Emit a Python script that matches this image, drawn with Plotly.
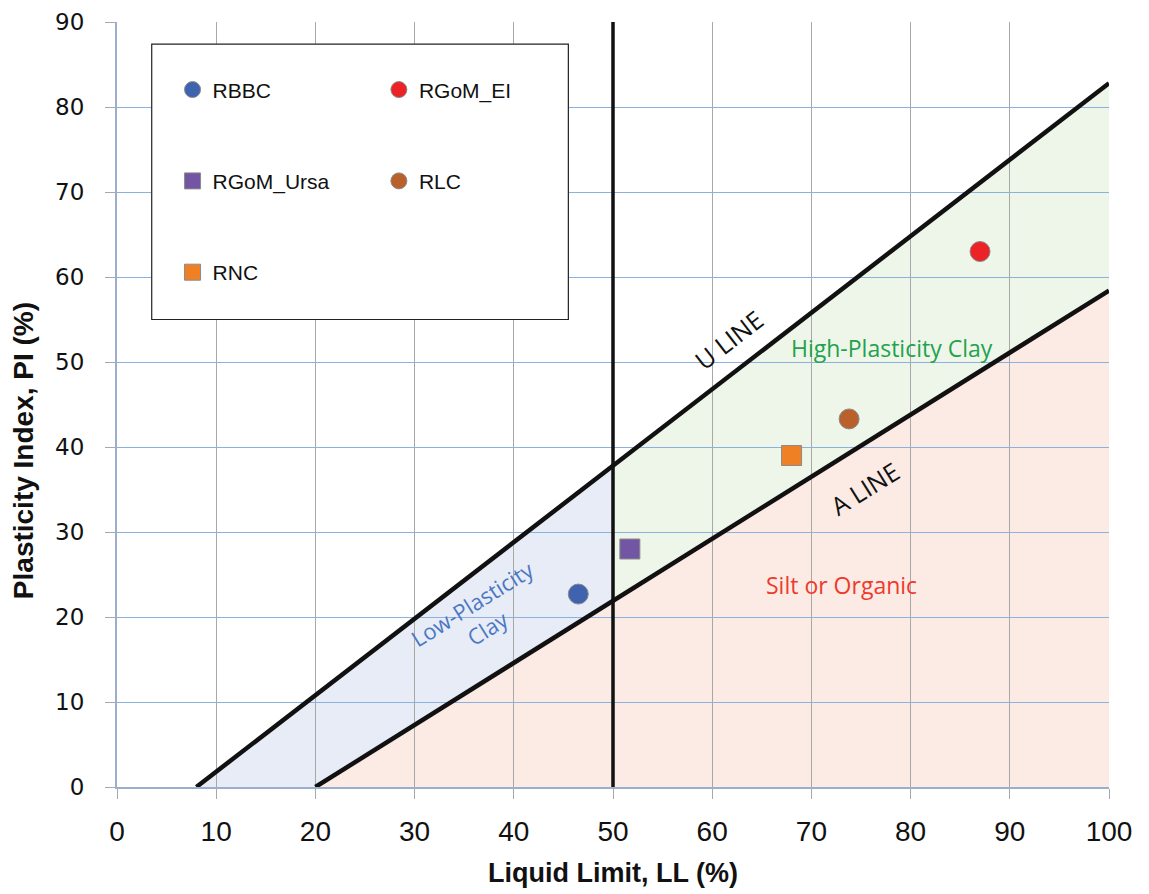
import numpy as np
import plotly.graph_objects as go

# ---- data ----
series_names = ["RBBC", "RGoM_EI", "RGoM_Ursa", "RLC", "RNC"]
series_ll = [46.5, 87.0, 51.7, 73.8, 68.0]
series_pi = [22.7, 63.0, 28.0, 43.3, 39.0]
series_colors = ["#4063B0", "#EC2227", "#7356A3", "#B9602B", "#F08024"]
series_symbols = ["circle", "circle", "square", "circle", "square"]
series_legend = ["legend", "legend2", "legend", "legend2", "legend"]

# Casagrande chart line definitions
U_SLOPE, U_LL0 = 0.9, 8.0     # U line: PI = 0.9 (LL - 8)
A_SLOPE, A_LL0 = 0.73, 20.0   # A line: PI = 0.73 (LL - 20)
LL_SPLIT = 50.0
LL_MAX = 100.0
PI_MAX = 90.0
x_ticks = list(range(0, 101, 10))
y_ticks = list(range(0, 91, 10))


def u_line(ll):
    return U_SLOPE * (np.asarray(ll) - U_LL0)


def a_line(ll):
    return A_SLOPE * (np.asarray(ll) - A_LL0)


fig = go.Figure()

# ---- shaded zones (shapes below gridlines) ----
def path(points):
    return "M " + " L ".join(f"{x},{y}" for x, y in points) + " Z"

low_clay = [(U_LL0, 0), (LL_SPLIT, float(u_line(LL_SPLIT))),
            (LL_SPLIT, float(a_line(LL_SPLIT))), (A_LL0, 0)]
high_clay = [(LL_SPLIT, float(u_line(LL_SPLIT))), (LL_MAX, float(u_line(LL_MAX))),
             (LL_MAX, float(a_line(LL_MAX))), (LL_SPLIT, float(a_line(LL_SPLIT)))]
silt = [(A_LL0, 0), (LL_MAX, float(a_line(LL_MAX))), (LL_MAX, 0)]

for pts, col in [(low_clay, "#E8ECF6"), (high_clay, "#EEF6EA"), (silt, "#FCEBE4")]:
    fig.add_shape(type="path", path=path(pts), xref="x", yref="y",
                  fillcolor=col, line=dict(width=0), layer="below")

# ---- lines ----
ll_u = np.array([U_LL0, LL_MAX])
ll_a = np.array([A_LL0, LL_MAX])
fig.add_trace(go.Scatter(x=ll_u, y=u_line(ll_u), mode="lines",
                         line=dict(color="#111111", width=4.5), showlegend=False, hoverinfo="skip"))
fig.add_trace(go.Scatter(x=ll_a, y=a_line(ll_a), mode="lines",
                         line=dict(color="#111111", width=4.5), showlegend=False, hoverinfo="skip"))
fig.add_trace(go.Scatter(x=[LL_SPLIT, LL_SPLIT], y=[0, PI_MAX], mode="lines",
                         line=dict(color="#111111", width=3.5), showlegend=False, hoverinfo="skip"))

# ---- legend box ----
fig.add_shape(type="rect", xref="x", yref="y", x0=3.5, x1=45.5, y0=55.0, y1=87.4,
              fillcolor="white", line=dict(color="#222222", width=1.2), layer="above")

# ---- data points ----
for name, x, y, c, s, lg in zip(series_names, series_ll, series_pi, series_colors,
                                series_symbols, series_legend):
    fig.add_trace(go.Scatter(x=[x], y=[y], mode="markers", name=name, legend=lg,
                             legendgroup=name,
                             marker=dict(color=c, symbol=s, size=20,
                                         line=dict(color="#8A8A8A", width=1))))

# ---- zone labels ----
ann_font = "Liberation Sans Narrow, Liberation Sans, sans-serif"
lab_font = "Open Sans, sans-serif"
ang_u = -np.degrees(np.arctan(U_SLOPE * (765 / 90) / (991 / 100)))
ang_a = -np.degrees(np.arctan(A_SLOPE * (765 / 90) / (991 / 100)))
fig.add_annotation(x=61.6, y=52.6, text="U LINE", showarrow=False, textangle=ang_u,
                   font=dict(family=lab_font, size=25, color="#111111"))
fig.add_annotation(x=75.4, y=35.2, text="A LINE", showarrow=False, textangle=ang_a,
                   font=dict(family=lab_font, size=25, color="#111111"))
fig.add_annotation(x=78.1, y=51.6, text="High-Plasticity Clay", showarrow=False,
                   font=dict(family=lab_font, size=23, color="#22A24C"))
fig.add_annotation(x=73.0, y=23.8, text="Silt or Organic", showarrow=False,
                   font=dict(family=lab_font, size=23, color="#EE3A2C"))
fig.add_annotation(x=36.6, y=20.2, text="Low-Plasticity<br>Clay", showarrow=False,
                   textangle=ang_a,
                   font=dict(family=lab_font, size=22, color="#4A78C4"))

# y-axis title (placed like the original, slightly below the axis centre)
fig.add_annotation(xref="paper", yref="paper", x=-0.094, y=0.44, xanchor="center",
                   yanchor="middle", text="<b>Plasticity Index, PI (%)</b>", showarrow=False,
                   textangle=-90, font=dict(family=ann_font, size=28, color="#111111"))

fig.update_layout(
    width=1149, height=894,
    margin=dict(l=109, r=48, t=14, b=115, autoexpand=False),
    plot_bgcolor="white", paper_bgcolor="white",
    legend=dict(x=0.056, y=0.938, xanchor="left", yanchor="top", bgcolor="rgba(0,0,0,0)",
                tracegroupgap=61, font=dict(family=ann_font, size=21, color="#111111")),
    legend2=dict(x=0.264, y=0.938, xanchor="left", yanchor="top", bgcolor="rgba(0,0,0,0)",
                 tracegroupgap=61, font=dict(family=ann_font, size=21, color="#111111")),
    xaxis=dict(range=[0, LL_MAX], tickvals=x_ticks, showgrid=True, gridcolor="#A8A8A8",
               gridwidth=1, zeroline=False, showline=True, linecolor="#9AAFCB", linewidth=2,
               ticks="outside", ticklen=10, tickcolor="#A8A8A8", ticklabelstandoff=8,
               ticklabeloverflow="allow", automargin=False,
               tickfont=dict(family=ann_font, size=28, color="#111111"),
               title=dict(text="<b>Liquid Limit, LL (%)</b>", standoff=18,
                          font=dict(family=ann_font, size=27, color="#111111"))),
    yaxis=dict(range=[0, PI_MAX], tickvals=y_ticks, showgrid=True, gridcolor="#8DB1DE",
               gridwidth=1, zeroline=False, showline=True, linecolor="#9AAFCB", linewidth=2,
               ticks="outside", ticklen=10, tickcolor="#A8A8A8", ticklabelstandoff=16,
               ticklabeloverflow="allow", automargin=False,
               tickfont=dict(family="DejaVu Sans, sans-serif", size=23, color="#111111")),
)

fig.write_html("out.html")
